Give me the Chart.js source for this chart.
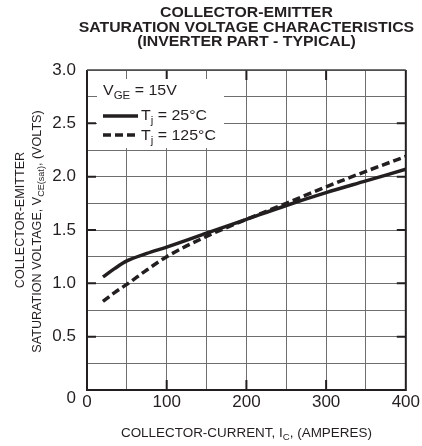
<!DOCTYPE html>
<html><head><meta charset="utf-8">
<script src="https://cdn.jsdelivr.net/npm/chart.js@4/dist/chart.umd.min.js"></script>
<style>html,body{margin:0;padding:0;background:#fff}#wrap{width:422px;height:446px}</style>
</head><body><div id="wrap"><canvas id="c" width="422" height="446"></canvas></div>
<script>
const titleLines = ["COLLECTOR-EMITTER", "SATURATION VOLTAGE CHARACTERISTICS", "(INVERTER PART - TYPICAL)"];
const currentA = [20, 35, 50, 75, 100, 150, 200, 250, 300, 350, 400];
const vce25C = [1.06, 1.14, 1.21, 1.28, 1.34, 1.47, 1.60, 1.73, 1.85, 1.96, 2.07];
const vce125C = [0.83, 0.915, 0.99, 1.125, 1.25, 1.44, 1.60, 1.75, 1.905, 2.05, 2.19];
const xTickLabels = [0, 100, 200, 300, 400];
const yTickLabels = ["0", "0.5", "1.0", "1.5", "2.0", "2.5", "3.0"];
const seriesNames = ["T_j = 25°C", "T_j = 125°C"];

const INK = '#231f20';
const FONT = '"Liberation Sans", Arial, Helvetica, sans-serif';

function rich(ctx, parts, x, y, size, align, sx) {
  const subSize = size * 0.72;
  ctx.save();
  ctx.translate(x, y);
  ctx.scale(sx || 1, 1);
  let w = 0;
  parts.forEach(p => { ctx.font = (p[1] ? subSize : size) + 'px ' + FONT; w += ctx.measureText(p[0]).width; });
  let cx = align === 'center' ? -w / 2 : 0;
  ctx.textAlign = 'left'; ctx.textBaseline = 'alphabetic';
  parts.forEach(p => {
    ctx.font = (p[1] ? subSize : size) + 'px ' + FONT;
    ctx.fillText(p[0], cx, p[1] ? size * 0.25 : 0);
    cx += ctx.measureText(p[0]).width;
  });
  ctx.restore();
}

const deco = {
  id: 'deco',
  beforeDatasetsDraw(chart) {
    const { ctx, chartArea: a, scales: { x, y } } = chart;
    ctx.save();
    ctx.strokeStyle = INK; ctx.lineWidth = 2;
    ctx.beginPath();
    [100, 200, 300].forEach(v => {
      const px = x.getPixelForValue(v);
      ctx.moveTo(px, a.bottom); ctx.lineTo(px, a.bottom - 10);
      ctx.moveTo(px, a.top); ctx.lineTo(px, a.top + 10);
    });
    [0.5, 1.0, 1.5, 2.0, 2.5].forEach(v => {
      const py = y.getPixelForValue(v);
      ctx.moveTo(a.left, py); ctx.lineTo(a.left + 9, py);
      ctx.moveTo(a.right, py); ctx.lineTo(a.right - 9, py);
    });
    ctx.stroke();
    ctx.fillStyle = '#fff';
    ctx.fillRect(97, 79, 127, 69);
    ctx.fillStyle = INK;
    rich(ctx, [["V", 0], ["GE", 1], [" = 15V", 0]], 103, 95, 14.5, 'left', 1.1);
    ctx.strokeStyle = INK; ctx.lineWidth = 3.5;
    ctx.beginPath(); ctx.moveTo(103, 116); ctx.lineTo(138, 116); ctx.stroke();
    ctx.setLineDash([8, 4]);
    ctx.beginPath(); ctx.moveTo(103, 135); ctx.lineTo(138, 135); ctx.stroke();
    ctx.setLineDash([]);
    const n0 = seriesNames[0].split('_'), n1 = seriesNames[1].split('_');
    rich(ctx, [[n0[0], 0], [n0[1].slice(0, 1), 1], [n0[1].slice(1), 0]], 141, 120, 14.5, 'left', 1.1);
    rich(ctx, [[n1[0], 0], [n1[1].slice(0, 1), 1], [n1[1].slice(1), 0]], 141, 140, 14.5, 'left', 1.1);
    ctx.restore();
  },
  afterDraw(chart) {
    const { ctx, chartArea: a, scales: { y } } = chart;
    ctx.save();
    ctx.strokeStyle = INK; ctx.lineWidth = 2;
    ctx.beginPath();
    ctx.moveTo(a.left, a.top); ctx.lineTo(a.left, a.bottom); ctx.lineTo(a.right, a.bottom); ctx.lineTo(a.right, a.top);
    ctx.stroke();
    ctx.strokeStyle = '#444'; ctx.lineWidth = 1.5;
    ctx.beginPath(); ctx.moveTo(a.left, a.top); ctx.lineTo(a.right, a.top); ctx.stroke();
    ctx.fillStyle = INK;
    ctx.font = 'bold 14px ' + FONT;
    ctx.textAlign = 'center'; ctx.textBaseline = 'alphabetic';
    const cx = (a.left + a.right) / 2;
    [17, 31.5, 45.5].forEach((by, i) => {
      ctx.setTransform(1.13, 0, 0, 1, cx, by);
      ctx.fillText(titleLines[i], 0, 0);
    });
    ctx.setTransform(1, 0, 0, 1, 0, 0);
    ctx.font = '17px ' + FONT; ctx.textAlign = 'right'; ctx.textBaseline = 'middle';
    ctx.fillText(yTickLabels[0], 76, y.getPixelForValue(0) + 8);
    rich(ctx, [["COLLECTOR-CURRENT, I", 0], ["C", 1], [", (AMPERES)", 0]], cx, 437, 12, 'center', 1.12);
    ctx.setTransform(0, -1, 1, 0, 24, 220);
    rich(ctx, [["COLLECTOR-EMITTER", 0]], 0, 0, 12, 'center', 1.05);
    ctx.setTransform(0, -1, 1, 0, 41, 231.5);
    rich(ctx, [["SATURATION VOLTAGE, V", 0], ["CE(sat)", 1], [", (VOLTS)", 0]], 0, 0, 12, 'center', 1.05);
    ctx.setTransform(1, 0, 0, 1, 0, 0);
    ctx.restore();
  }
};

new Chart(document.getElementById('c'), {
  type: 'line',
  data: {
    datasets: [
      { label: seriesNames[0], data: currentA.map((v, i) => ({ x: v, y: vce25C[i] })),
        borderColor: INK, borderWidth: 3.5, pointRadius: 0, cubicInterpolationMode: 'monotone', fill: false },
      { label: seriesNames[1], data: currentA.map((v, i) => ({ x: v, y: vce125C[i] })),
        borderColor: INK, borderWidth: 3.5, borderDash: [8, 4], pointRadius: 0, cubicInterpolationMode: 'monotone', fill: false }
    ]
  },
  options: {
    responsive: false, animation: false, devicePixelRatio: 1,
    layout: { padding: { top: 70, right: 15, left: 0, bottom: 0 } },
    plugins: { legend: { display: false }, title: { display: false }, tooltip: { enabled: false } },
    scales: {
      x: {
        type: 'linear', min: 0, max: 400,
        afterFit(s) { s.height = 56; },
        grid: { color: '#6e6e6e', lineWidth: 1, drawTicks: false },
        border: { display: false },
        ticks: {
          stepSize: 50, padding: 2, color: INK, font: { size: 17, family: FONT }, minRotation: 0, maxRotation: 0, autoSkip: false,
          callback: v => xTickLabels.includes(v) ? String(v) : ''
        }
      },
      y: {
        type: 'linear', min: 0, max: 3,
        afterFit(s) { s.width = 87; },
        grid: { color: '#6e6e6e', lineWidth: 1, drawTicks: false },
        border: { display: false },
        ticks: {
          stepSize: 0.25, padding: 11, color: INK, font: { size: 17, family: FONT }, minRotation: 0, maxRotation: 0, autoSkip: false,
          callback: v => { const s = (Math.round(v * 100) / 100).toFixed(1); return (v !== 0 && yTickLabels.includes(s)) ? s : ''; }
        }
      }
    }
  },
  plugins: [deco]
});
</script></body></html>
